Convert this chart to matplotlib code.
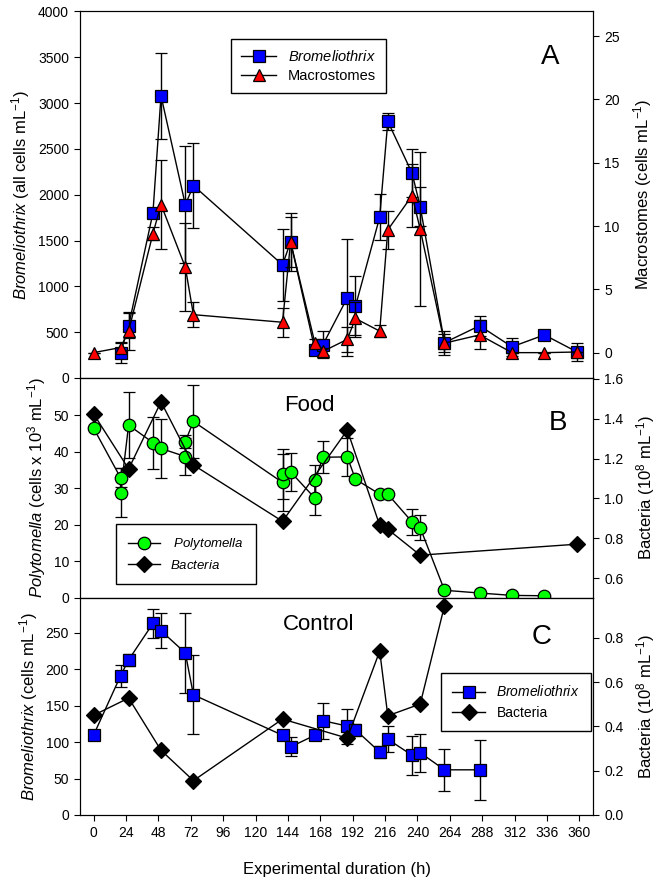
import matplotlib
matplotlib.use("Agg")
import matplotlib.pyplot as plt
from matplotlib.lines import Line2D


# Panel A: Bromeliothrix (left axis) and macrostomes (right axis)
a_bro_h = [20, 26, 44, 50, 68, 74, 140, 146, 164, 170, 188, 194, 212, 218,
           236, 242, 260, 286, 310, 334, 358]
a_bro = [272, 570, 1800, 3080, 1890, 2100, 1235, 1485, 310, 365, 875, 780,
         1755, 2800, 2235, 1870, 385, 570, 340, 470, 285]
a_bro_err = [110, 135, 50, 470, 640, 460, 390, 315, 40, 150, 640, 330,
             250, 90, 260, 210, 130, 110, 100, 0, 100]

a_mac_h = [0, 20, 26, 44, 50, 68, 74, 140, 146, 164, 170, 188, 194, 212, 218,
           236, 242, 260, 286, 310, 334, 358]
a_mac = [0.0, 0.4, 1.7, 9.4, 11.7, 6.75, 3.0, 2.4, 8.75, 0.75, 0.1, 1.05,
         2.7, 1.7, 9.7, 12.4, 9.75, 0.75, 1.4, 0.0, 0.0, 0.05]
a_mac_err = [0, 0.45, 1.5, 0.5, 3.5, 3.5, 1.0, 1.15, 2.0, 0.3, 0.3, 1.0,
             1.3, 0.5, 1.5, 2.5, 6.1, 0.7, 1.15, 0, 0, 0]

# Panel B: Polytomella (left axis) and bacteria (right axis), food treatment
b_pol_h = [0, 20, 20, 26, 44, 50, 68, 68, 74, 140, 140, 146, 164, 164, 170,
           188, 194, 212, 218, 236, 242, 260, 286, 310, 334]
b_pol = [46.5, 32.9, 28.8, 47.3, 42.5, 40.9, 38.7, 42.8, 48.3, 31.6, 33.9,
         34.5, 27.3, 32.2, 38.5, 38.6, 32.5, 28.4, 28.4, 20.8, 19.2, 2.1,
         1.35, 0.7, 0.6]
b_pol_err = [0, 2.6, 6.7, 9.0, 7.1, 8.2, 5.1, 1.8, 9.9, 7.8, 6.8, 5.2, 4.6,
             4.2, 4.4, 5.2, 0, 0, 0, 3.5, 3.4, 0, 0, 0, 0]

b_bac_h = [0, 26, 50, 74, 140, 188, 212, 218, 242, 358]
b_bac = [1.425, 1.148, 1.485, 1.168, 0.885, 1.343, 0.865, 0.845, 0.715, 0.77]

# Panel C: Bromeliothrix (left axis) and bacteria (right axis), control
c_bro_h = [0, 20, 26, 44, 50, 68, 74, 140, 146, 164, 170, 188, 194, 212, 218,
           236, 242, 260, 286]
c_bro = [109.5, 191, 213, 263, 253, 222.5, 165, 109.5, 93.5, 109.5, 129.5,
         122, 117, 86.5, 104, 82, 85.5, 62, 62]
c_bro_err = [0, 15, 8, 19.5, 24, 54.5, 54, 0, 13, 0, 24.5, 24, 8, 8, 18,
             27, 26, 29, 41]

c_bac_h = [0, 26, 50, 74, 140, 188, 212, 218, 242, 260]
c_bac = [0.45, 0.528, 0.292, 0.155, 0.433, 0.347, 0.74, 0.448, 0.501, 0.945]

X_TICKS = list(range(0, 361, 24))

BLUE = "#0000ff"
RED = "#ff0000"
GREEN = "#00ff00"

TICK_FS = 10
LABEL_FS = 12

plt.rcParams["font.family"] = ["Liberation Sans", "DejaVu Sans"]
plt.rcParams["mathtext.fontset"] = "custom"
plt.rcParams["mathtext.rm"] = "Liberation Sans"
plt.rcParams["mathtext.it"] = "Liberation Sans:italic"
plt.rcParams["font.size"] = 10


def series(ax, x, y, err, marker, color, ms):
    if err is None:
        ax.plot(x, y, "-", color="k", lw=1, marker=marker, ms=ms, mfc=color,
                mec="k", mew=0.9, clip_on=False, zorder=3)
    else:
        ax.errorbar(x, y, yerr=err, fmt="-", color="k", lw=1, marker=marker,
                    ms=ms, mfc=color, mec="k", mew=0.9, ecolor="k",
                    elinewidth=1, capsize=4, capthick=1, clip_on=False,
                    zorder=3)


def handle(marker, color, ms):
    return Line2D([], [], color="k", lw=1, marker=marker, ms=ms, mfc=color,
                  mec="k", mew=0.9)


def style(ax, ax2, bottom):
    for a in (ax, ax2):
        a.tick_params(direction="out", length=4.5, labelsize=TICK_FS)
    ax.set_xlim(-10, 370)
    if bottom:
        ax.set_xticks(X_TICKS)
    else:
        ax.tick_params(axis="x", bottom=False, labelbottom=False)


fig = plt.figure(figsize=(6.63, 8.8), dpi=100)
left, width = 0.1207, 0.7737
axA = fig.add_axes([left, 0.5705, width, 0.4165])
axB = fig.add_axes([left, 0.3205, width, 0.25])
axC = fig.add_axes([left, 0.0739, width, 0.2466])
axA2, axB2, axC2 = axA.twinx(), axB.twinx(), axC.twinx()

# --- A
series(axA, a_bro_h, a_bro, a_bro_err, "s", BLUE, 8)
series(axA2, a_mac_h, a_mac, a_mac_err, "^", RED, 8.5)
axA.set_ylim(0, 4000)
axA.set_yticks(range(0, 4001, 500))
axA2.set_ylim(-2.0, 26.95)
axA2.set_yticks(range(0, 26, 5))
axA.set_ylabel(r"$\it{Bromeliothrix}$ (all cells mL$^{-1}$)",
               fontsize=LABEL_FS)
axA2.set_ylabel(r"Macrostomes (cells mL$^{-1}$)", fontsize=LABEL_FS,
                labelpad=8)
style(axA, axA2, False)
axA2.text(0.916, 0.875, "A", transform=axA2.transAxes, fontsize=20,
          ha="center", va="center")
legA = axA2.legend([handle("s", BLUE, 8), handle("^", RED, 8.5)],
                   [r"$\it{Bromeliothrix}$", "Macrostomes"],
                   loc="upper left", bbox_to_anchor=(0.28, 0.945),
                   fancybox=False, edgecolor="k", framealpha=1, fontsize=10.5,
                   handlelength=2.4, borderpad=0.7, labelspacing=0.35)
legA.get_frame().set_linewidth(1)

# --- B
series(axB, b_pol_h, b_pol, b_pol_err, "o", GREEN, 9)
series(axB2, b_bac_h, b_bac, None, "D", "k", 8)
axB.set_ylim(0, 60.2)
axB.set_yticks(range(0, 51, 10))
axB2.set_ylim(0.5, 1.605)
axB2.set_yticks([0.6, 0.8, 1.0, 1.2, 1.4, 1.6])
axB2.set_yticklabels(["0.6", "0.8", "1.0", "1.2", "1.4", "1.6"])
axB.set_ylabel(r"$\it{Polytomella}$ (cells x 10$^{3}$ mL$^{-1}$)",
               fontsize=LABEL_FS)
axB2.set_ylabel(r"Bacteria (10$^{8}$ mL$^{-1}$)", fontsize=LABEL_FS,
                labelpad=8)
style(axB, axB2, False)
axB2.text(0.448, 0.873, "Food", transform=axB2.transAxes, fontsize=16,
          ha="center", va="center")
axB2.text(0.932, 0.795, "B", transform=axB2.transAxes, fontsize=20,
          ha="center", va="center")
legB = axB2.legend([handle("o", GREEN, 9), handle("D", "k", 8)],
                   [r" $\it{Polytomella}$", r"$\it{Bacteria}$"],
                   loc="lower left", bbox_to_anchor=(0.058, 0.035),
                   fancybox=False, edgecolor="k", framealpha=1, fontsize=9.5,
                   handlelength=2.4, borderpad=0.9)
legB.get_frame().set_linewidth(1)

# --- C
series(axC, c_bro_h, c_bro, c_bro_err, "s", BLUE, 8)
series(axC2, c_bac_h, c_bac, None, "D", "k", 8)
axC.set_ylim(0, 298)
axC.set_yticks(range(0, 251, 50))
axC2.set_ylim(0, 0.98)
axC2.set_yticks([0.0, 0.2, 0.4, 0.6, 0.8])
axC2.set_yticklabels(["0.0", "0.2", "0.4", "0.6", "0.8"])
axC.set_ylabel(r"$\it{Bromeliothrix}$ (cells mL$^{-1}$)", fontsize=LABEL_FS)
axC2.set_ylabel(r"Bacteria (10$^{8}$ mL$^{-1}$)", fontsize=LABEL_FS,
                labelpad=8)
axC.set_xlabel("Experimental duration (h)", fontsize=LABEL_FS, labelpad=16)
style(axC, axC2, True)
axC2.text(0.465, 0.876, "Control", transform=axC2.transAxes, fontsize=16,
          ha="center", va="center")
axC2.text(0.9, 0.82, "C", transform=axC2.transAxes, fontsize=20,
          ha="center", va="center")
legC = axC2.legend([handle("s", BLUE, 8), handle("D", "k", 8)],
                   [r"$\it{Bromeliothrix}$", "Bacteria"],
                   loc="upper left", bbox_to_anchor=(0.69, 0.685),
                   fancybox=False, edgecolor="k", framealpha=1, fontsize=10,
                   handlelength=2.4, borderpad=0.8)
legC.get_frame().set_linewidth(1)

fig.savefig("out.png", dpi=100)
plt.close(fig)
